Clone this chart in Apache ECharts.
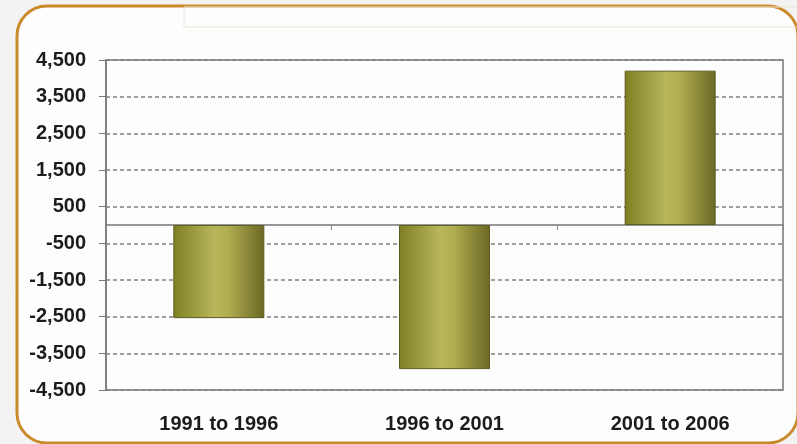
<!DOCTYPE html>
<html>
<head>
<meta charset="utf-8">
<script src="https://cdn.jsdelivr.net/npm/echarts@6/dist/echarts.min.js"></script>
<style>
html,body{margin:0;padding:0;background:#f3f3f3;}
#c{width:797px;height:444px;}
</style>
</head>
<body>
<div id="c"></div>
<script>
const categories = ["1991 to 1996", "1996 to 2001", "2001 to 2006"];
const changeValues = [-2540, -3930, 4210];
const yMin = -4500, yMax = 4500, yStep = 1000;

const chart = echarts.init(document.getElementById('c'));
const labelFont = {fontFamily: '"Liberation Sans", Arial, sans-serif', fontWeight: 'bold', fontSize: 20, color: '#1c1c1c'};
const barGradient = new echarts.graphic.LinearGradient(0, 0, 1, 0, [
  {offset: 0, color: '#7e7e22'},
  {offset: 0.45, color: '#b7b65a'},
  {offset: 0.6, color: '#b0ae50'},
  {offset: 1, color: '#6a6824'}
]);
chart.setOption({
  backgroundColor: '#f3f3f3',
  animation: false,
  graphic: [
    {type: 'rect', z: -10, shape: {x: 17, y: 6, width: 781, height: 437, r: 30},
     style: {fill: '#fdfdfd', stroke: '#c98a2b', lineWidth: 3}},
    {type: 'rect', z: -9, shape: {x: 184, y: 7, width: 640, height: 20},
     style: {fill: 'none', stroke: '#efe6d4', lineWidth: 1}}
  ],
  grid: {left: 106, right: 14, top: 60, bottom: 54, show: true, borderColor: '#777', borderWidth: 1.5, backgroundColor: 'transparent'},
  xAxis: [
    {type: 'category', data: categories, position: 'bottom',
     axisLine: {onZero: true, lineStyle: {color: '#777', width: 1.5}},
     axisTick: {show: true, length: 5, lineStyle: {color: '#888'}},
     axisLabel: {show: false}, splitLine: {show: false}},
    {type: 'category', data: categories, position: 'bottom', gridIndex: 0,
     axisLine: {show: false, onZero: false}, axisTick: {show: false},
     axisLabel: Object.assign({margin: 24}, labelFont)}
  ],
  yAxis: {type: 'value', min: yMin, max: yMax, interval: yStep,
    axisLine: {show: true, lineStyle: {color: '#777', width: 1.5}},
    axisTick: {show: true, length: 7, lineStyle: {color: '#777'}},
    axisLabel: Object.assign({margin: 20, formatter: v => v.toLocaleString('en-US')}, labelFont),
    splitLine: {show: true, lineStyle: {color: '#808080', width: 1.5, type: [4, 3]}}
  },
  series: [{
    type: 'bar', data: changeValues, xAxisIndex: 0, barWidth: 91,
    itemStyle: {color: barGradient, borderColor: '#5e5c22', borderWidth: 1}
  }]
});
</script>
</body>
</html>
